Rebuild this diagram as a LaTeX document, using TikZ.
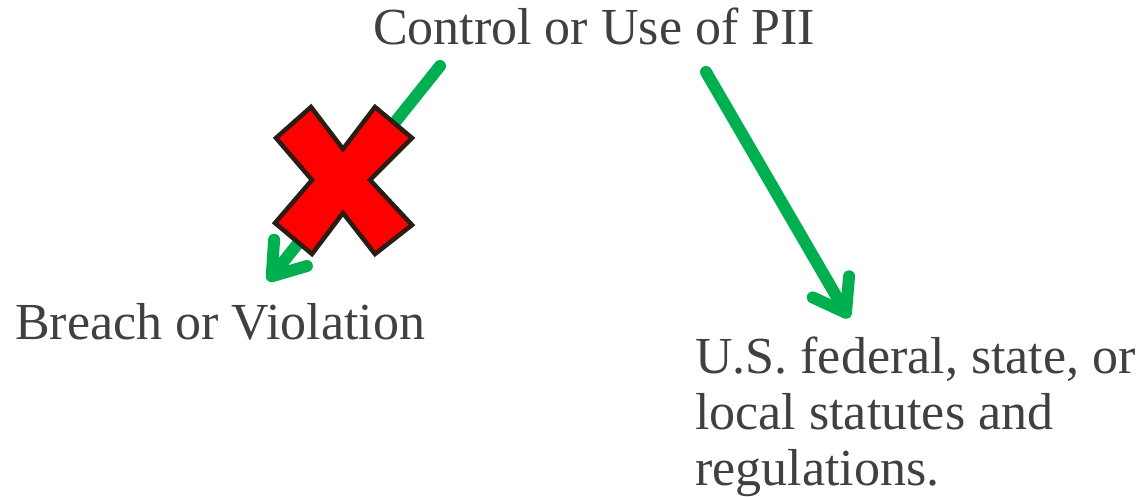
\documentclass[tikz,border=0pt]{standalone}
\usepackage{fontspec}
\setmainfont{Liberation Serif}
\usepackage{tikz}
\usetikzlibrary{arrows.meta}
\definecolor{txtgray}{HTML}{404040}
\definecolor{arrowgreen}{HTML}{00B050}
\definecolor{xoutline}{HTML}{2B1D14}
\tikzset{
	label text/.style={text=txtgray, inner sep=0pt, font=\fontsize{52}{56}\selectfont},
	green arrow/.style={draw=arrowgreen, line width=12pt, line cap=round,
		-{Straight Barb[round, length=30pt, width=42pt]}},
	cross mark/.style={fill=red, draw=xoutline, line width=4.5pt, line join=miter}
}
\begin{document}
\begin{tikzpicture}[x=1pt, y=-1pt]
				\useasboundingbox (0,0) rectangle (1142,497);
				\node (pii) [label text, anchor=base] at (594,45) {Control or Use of PII};
				\node (breach) [label text, anchor=base west] at (15,339) {Breach or Violation};
				\node (laws) [label text, anchor=base west, align=left] at (695,485) {U.S. federal, state, or\\local statutes and\\regulations.};
				\coordinate (from1) at (440,66);
				\coordinate (to1) at (268,281);
				\coordinate (from2) at (706,72);
				\coordinate (to2) at (849,318);
				\draw[green arrow](from1) to (to1);
				\draw[green arrow](from2) to (to2);
				% red cross over the left arrow
				\coordinate (xmark) at (343,181);
				\draw[cross mark, shift={(xmark)}] (-32,-74) -- (0,-32) -- (32,-74) -- (69,-43) -- (27,-1) -- (69,44) -- (32,73) -- (0,32) -- (-31,73) -- (-68,42) -- (-31,-1) -- (-67,-43) -- cycle;
			\end{tikzpicture}
\end{document}
